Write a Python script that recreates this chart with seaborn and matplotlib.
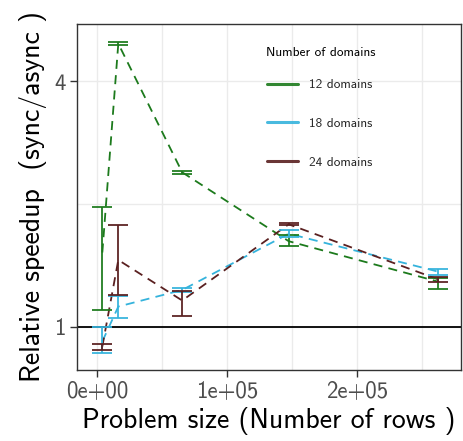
import matplotlib
matplotlib.use("Agg")
import matplotlib.pyplot as plt
import matplotlib.ticker as mticker
from matplotlib.lines import Line2D
import numpy as np
import pandas as pd
import seaborn as sns

# Problem sizes (number of rows) and measured speedups per domain count
rows = [4096, 16384, 65536, 147456, 262144]
domains = ["12 domains", "18 domains", "24 domains"]

speedup_12 = [1.52, 4.94, 2.39, 1.62, 1.29]
lower_12 = [1.10, 4.89, 2.37, 1.575, 1.238]
upper_12 = [1.96, 4.98, 2.41, 1.675, 1.316]

speedup_18 = [0.92, 1.12, 1.23, 1.69, 1.365]
lower_18 = [0.864, 1.052, 1.217, 1.657, 1.339]
upper_18 = [1.0, 1.19, 1.245, 1.724, 1.385]

speedup_24 = [0.894, 1.457, 1.159, 1.782, 1.307]
lower_24 = [0.879, 1.197, 1.064, 1.772, 1.289]
upper_24 = [0.909, 1.773, 1.224, 1.795, 1.326]

colors = {"12 domains": "#1c7a1c", "18 domains": "#35b3dc", "24 domains": "#5a2020"}

df = pd.DataFrame({
    "rows": rows * 3,
    "speedup": speedup_12 + speedup_18 + speedup_24,
    "lower": lower_12 + lower_18 + lower_24,
    "upper": upper_12 + upper_18 + upper_24,
    "domains": np.repeat(domains, len(rows)),
})

sns.set_theme(style="white")
plt.rcParams["font.family"] = ["cmss10", "DejaVu Sans"]
plt.rcParams["axes.unicode_minus"] = False
plt.rcParams["axes.formatter.use_mathtext"] = False

fig = plt.figure(figsize=(4.64, 4.41), dpi=100)
ax = fig.add_axes([77 / 464, 71 / 441, 384 / 464, 346 / 441])

ax.axhline(1, color="black", lw=1.3, zorder=1)

sns.lineplot(data=df, x="rows", y="speedup", hue="domains", palette=colors,
             ax=ax, lw=1.3, legend=False, zorder=3)
for line in ax.get_lines()[1:]:
    line.set_dashes((5, 3.5))

for name in domains:
    sub = df[df["domains"] == name]
    err = np.vstack([sub["speedup"] - sub["lower"], sub["upper"] - sub["speedup"]])
    ax.errorbar(sub["rows"], sub["speedup"], yerr=err, fmt="none",
                ecolor=colors[name], elinewidth=1.4, capsize=7, capthick=1.4,
                alpha=0.9, zorder=4)

ax.set_yscale("log")
ax.set_ylim(0.783, 5.52)
ax.set_xlim(-15385, 280000)
ax.yaxis.set_major_locator(mticker.FixedLocator([1, 4]))
ax.yaxis.set_major_formatter(mticker.FixedFormatter(["1", "4"]))
ax.yaxis.set_minor_locator(mticker.FixedLocator([2]))
ax.yaxis.set_minor_formatter(mticker.NullFormatter())
ax.xaxis.set_major_locator(mticker.FixedLocator([0, 100000, 200000]))
ax.xaxis.set_major_formatter(mticker.FixedFormatter(["0e+00", "1e+05", "2e+05"]))
ax.xaxis.set_minor_locator(mticker.FixedLocator([50000, 150000, 250000]))

ax.grid(True, which="both", color="#ebebeb", lw=1.0, zorder=0)
ax.set_axisbelow(True)
for s in ax.spines.values():
    s.set_color("#333333")
    s.set_linewidth(1.0)

ax.tick_params(axis="both", which="major", length=5, width=1.0, color="#333333",
               labelcolor="#4d4d4d", labelsize=16.5, pad=3, left=True, bottom=True)
ax.tick_params(axis="both", which="minor", length=0)

ax.set_xlabel("Problem size (Number of rows )", fontsize=20, color="black", labelpad=3)
ax.set_ylabel("Relative speedup  (sync/async )", fontsize=20, color="black", labelpad=5)

# Legend: title drawn as its own text, entries below with wide spacing
ax.text(189 / 384, 1 - 29 / 346, "Number of domains", transform=ax.transAxes,
        fontsize=9.6, color="black", ha="left", va="center")
handles = [Line2D([], [], color=colors[d], lw=2.2, alpha=0.9) for d in domains]
leg = ax.legend(handles, domains, loc="upper left",
                bbox_to_anchor=(190 / 384, 1 - 55 / 346), frameon=False,
                fontsize=9.6, labelspacing=1.98,
                handlelength=2.33, handletextpad=0.8, borderaxespad=0,
                borderpad=0)

fig.savefig("out.png", dpi=100)
